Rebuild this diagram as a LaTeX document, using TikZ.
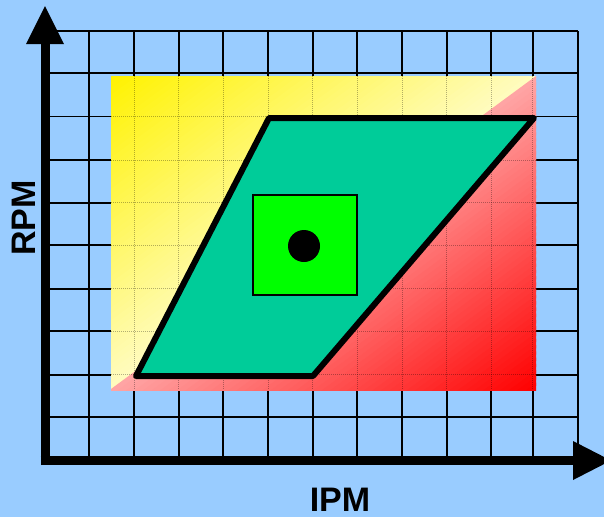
\documentclass[tikz,border=0pt]{standalone}
\usepackage{fontspec}
\setmainfont{Liberation Sans}
\definecolor{bgblue}{RGB}{153,204,255}
\definecolor{regionteal}{RGB}{0,204,153}
\definecolor{boxgreen}{RGB}{0,255,0}
\begin{document}
\begin{tikzpicture}[x=1pt,y=-1pt,
  gridline/.style={line width=1.8pt,black},
  faintgrid/.style={line width=1pt,black,opacity=0.3,densely dotted},
  axisline/.style={line width=9pt,black},
  axislabel/.style={font=\fontsize{34}{40}\selectfont\bfseries,inner sep=0pt}]
\fill[bgblue] (0,0) rectangle (604,517);
\useasboundingbox (0,0) rectangle (604,517);
\begin{scope}
\clip (0,0) rectangle (604,517);
% grid
\foreach \gx in {89.3,134,178.7,223.3,268.3,312.7,357.3,402,446.7,491.3,532.7,578.3}
  \draw[gridline] (\gx,31) -- (\gx,461);
\foreach \gy in {31,73.3,116.5,160,202.7,245.3,288.7,331.3,374.7,417.3}
  \draw[gridline] (45,\gy) -- (578.3,\gy);
% diagonal gradient background region
\begin{scope}
\clip (111,76) rectangle (536,390);
\foreach \i in {0,...,99}{
  \pgfmathsetmacro\ca{2*\i/100}
  \pgfmathsetmacro\cb{2*(\i+1.5)/100}
  \pgfmathsetmacro\s{(\i+0.5)/100}
  \ifdim\s pt<0.5pt
    \pgfmathsetmacro\pc{100-75*\s*2}
    \colorlet{stripc}{yellow!\pc!white}
  \else
    \pgfmathsetmacro\pc{35+65*(\s-0.5)*2}
    \colorlet{stripc}{red!\pc!white}
  \fi
  \fill[stripc] ({111+425*(\ca+1)},-237) -- ({111+425*(\cb+1)},-237)
     -- (-314,{76+313*(\cb+1)}) -- (-314,{76+313*(\ca+1)}) -- cycle;
}
\foreach \gx in {134,178.7,223.3,268.3,312.7,357.3,402,446.7,491.3,532.7}
  \draw[faintgrid] (\gx,76) -- (\gx,390);
\foreach \gy in {116.5,160,202.7,245.3,288.7,331.3,374.7}
  \draw[faintgrid] (111,\gy) -- (536,\gy);
\end{scope}
% operating region
\draw[line width=6pt,fill=regionteal,line join=round] (136,376) -- (313,376) -- (534,118) -- (269,118) -- cycle;
\node[draw=black,line width=1.5pt,fill=boxgreen,minimum width=104pt,minimum height=100pt,inner sep=0pt] (box) at (305,245) {};
\fill[black] (304,246) circle (16pt);
% axes
\draw[axisline] (45,465) -- (45,43);
\fill[black] (26,44) -- (64,44) -- (45,6) -- cycle;
\draw[axisline] (40.5,460.5) -- (574,460.5);
\fill[black] (573,441) -- (573,480) -- (611,460.5) -- cycle;
\end{scope}
\node[axislabel,rotate=90] (rpm) at (24,218) {RPM};
\node[axislabel] (ipm) at (340,500) {IPM};
\end{tikzpicture}
\end{document}
